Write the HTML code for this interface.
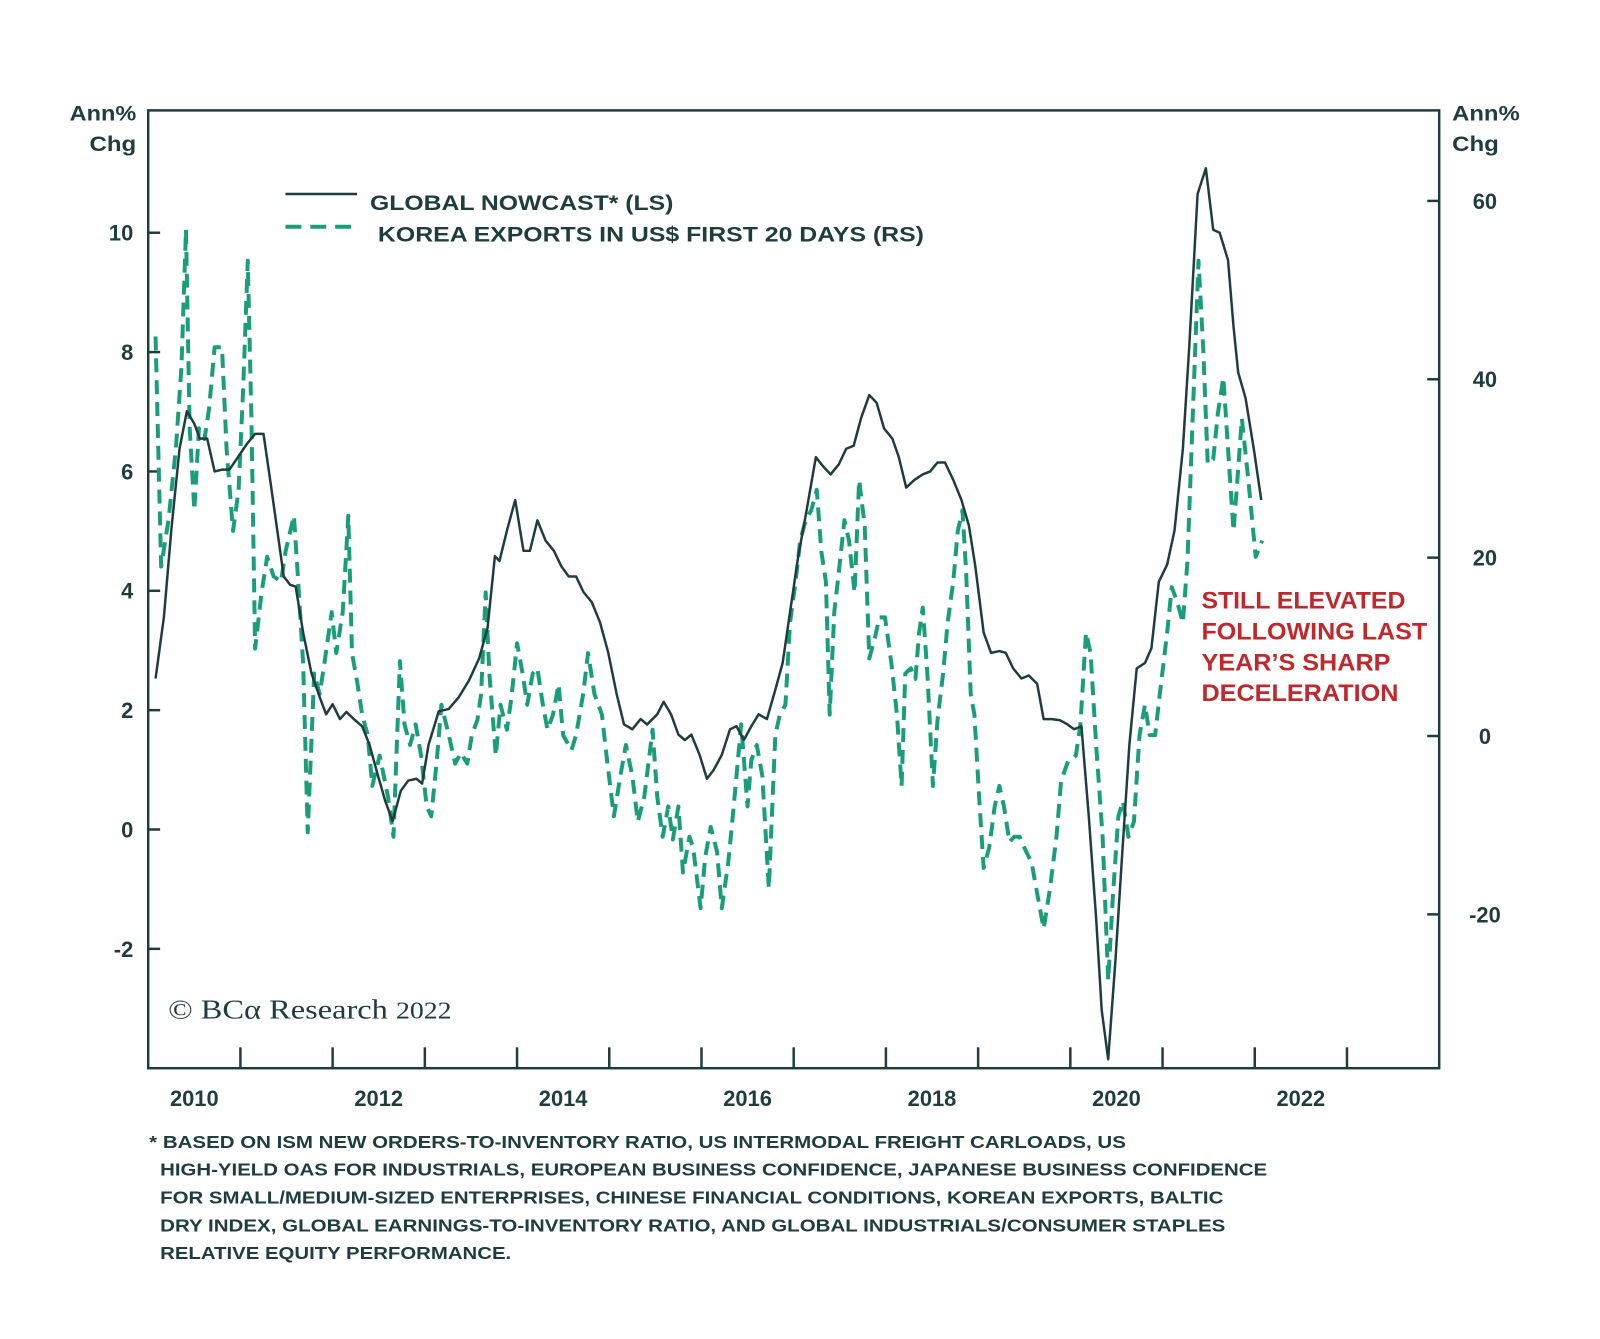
<!DOCTYPE html>
<html><head><meta charset="utf-8"><style>
body{margin:0;background:#fff;}
svg{display:block;font-family:"Liberation Sans",sans-serif;}
</style></head><body>
<svg id="chart" width="1600" height="1339" viewBox="0 0 1600 1339">
<g transform="scale(0.9946)">
<g id="axes"></g>
<g id="series"></g>
<g font-weight="bold" font-size="21" fill="#1e3d3b">
<text x="70" y="121" textLength="67" lengthAdjust="spacingAndGlyphs">Ann%</text><text x="90" y="152" textLength="47" lengthAdjust="spacingAndGlyphs">Chg</text></g>
<g font-weight="bold" font-size="21" fill="#1e3d3b">
<text x="1460" y="121" textLength="68" lengthAdjust="spacingAndGlyphs">Ann%</text><text x="1460" y="152" textLength="47" lengthAdjust="spacingAndGlyphs">Chg</text></g>
<g>
<line x1="287" y1="195" x2="359" y2="195" stroke="#1e3d3b" stroke-width="2.5"/>
<text x="372" y="211" font-weight="bold" font-size="21" fill="#1e3d3b" textLength="305" lengthAdjust="spacingAndGlyphs">GLOBAL NOWCAST* (LS)</text>
<line x1="287" y1="228" x2="361" y2="228" stroke="#1a9e7a" stroke-width="4" stroke-dasharray="16,9"/>
<text x="380" y="243" font-weight="bold" font-size="21" fill="#1e3d3b" textLength="549" lengthAdjust="spacingAndGlyphs">KOREA EXPORTS IN US$ FIRST 20 DAYS (RS)</text>
</g>
<text x="169" y="1024" font-family="'Liberation Serif',serif" font-size="28" fill="#1e3d3b" textLength="285" lengthAdjust="spacingAndGlyphs">© BCα Research <tspan font-size="24">2022</tspan></text>
<g font-weight="bold" font-size="24" fill="#c0282d">
<text x="1208" y="612" textLength="205" lengthAdjust="spacingAndGlyphs">STILL ELEVATED</text><text x="1208" y="643" textLength="227" lengthAdjust="spacingAndGlyphs">FOLLOWING LAST</text>
<text x="1208" y="674" textLength="190" lengthAdjust="spacingAndGlyphs">YEAR’S SHARP</text><text x="1208" y="705" textLength="198" lengthAdjust="spacingAndGlyphs">DECELERATION</text></g>
<g font-weight="bold" font-size="18" fill="#1e3d3b">
<text x="150" y="1154" textLength="982" lengthAdjust="spacingAndGlyphs">* BASED ON ISM NEW ORDERS-TO-INVENTORY RATIO, US INTERMODAL FREIGHT CARLOADS, US</text>
<text x="161" y="1182" textLength="1113" lengthAdjust="spacingAndGlyphs">HIGH-YIELD OAS FOR INDUSTRIALS, EUROPEAN BUSINESS CONFIDENCE, JAPANESE BUSINESS CONFIDENCE</text>
<text x="161" y="1210" textLength="1069" lengthAdjust="spacingAndGlyphs">FOR SMALL/MEDIUM-SIZED ENTERPRISES, CHINESE FINANCIAL CONDITIONS, KOREAN EXPORTS, BALTIC</text>
<text x="161" y="1238" textLength="1071" lengthAdjust="spacingAndGlyphs">DRY INDEX, GLOBAL EARNINGS-TO-INVENTORY RATIO, AND GLOBAL INDUSTRIALS/CONSUMER STAPLES</text>
<text x="161" y="1266" textLength="353" lengthAdjust="spacingAndGlyphs">RELATIVE EQUITY PERFORMANCE.</text>
</g>
</g>
</svg>
<script>
const leftTicks=[-2,0,2,4,6,8,10];
const rightTicks=[-20,0,20,40,60];
const yearLabels=[2010,2012,2014,2016,2018,2020,2022];
const nowDates=[2010.08,2010.17,2010.25,2010.34,2010.42,2010.50,2010.56,2010.64,2010.72,2010.80,2010.88,2010.96,2011.07,2011.16,2011.25,2011.33,2011.40,2011.47,2011.54,2011.60,2011.68,2011.77,2011.86,2011.93,2012.00,2012.08,2012.15,2012.23,2012.32,2012.40,2012.49,2012.57,2012.65,2012.74,2012.82,2012.91,2012.97,2013.04,2013.15,2013.26,2013.37,2013.48,2013.59,2013.68,2013.76,2013.81,2013.89,2013.98,2014.07,2014.14,2014.22,2014.31,2014.40,2014.48,2014.56,2014.64,2014.72,2014.81,2014.90,2014.99,2015.08,2015.16,2015.25,2015.34,2015.41,2015.52,2015.59,2015.67,2015.75,2015.82,2015.89,2015.98,2016.06,2016.13,2016.22,2016.31,2016.38,2016.46,2016.54,2016.62,2016.71,2016.80,2016.88,2016.96,2017.05,2017.14,2017.24,2017.30,2017.40,2017.49,2017.57,2017.65,2017.73,2017.82,2017.90,2017.98,2018.07,2018.14,2018.22,2018.31,2018.40,2018.48,2018.56,2018.64,2018.73,2018.82,2018.90,2018.97,2019.06,2019.14,2019.23,2019.30,2019.38,2019.47,2019.55,2019.64,2019.71,2019.80,2019.89,2019.97,2020.04,2020.12,2020.20,2020.28,2020.34,2020.41,2020.49,2020.56,2020.64,2020.72,2020.81,2020.88,2020.96,2021.05,2021.13,2021.22,2021.29,2021.38,2021.47,2021.55,2021.62,2021.71,2021.77,2021.82,2021.90,2021.99,2022.07];
const nowValues=[2.53,3.56,5.01,6.38,7.01,6.80,6.55,6.55,6.0,6.03,6.03,6.21,6.46,6.63,6.63,5.78,5.01,4.24,4.10,4.07,3.30,2.62,2.22,1.93,2.10,1.85,1.97,1.85,1.73,1.42,0.91,0.48,0.14,0.65,0.82,0.85,0.77,1.42,1.98,2.02,2.22,2.50,2.87,3.38,4.58,4.50,5.01,5.52,4.67,4.67,5.18,4.84,4.67,4.41,4.24,4.24,3.98,3.81,3.47,2.96,2.27,1.76,1.68,1.85,1.76,1.93,2.14,1.93,1.59,1.50,1.59,1.25,0.85,0.99,1.25,1.68,1.73,1.50,1.73,1.93,1.85,2.34,2.79,3.64,4.58,5.35,6.24,6.12,5.95,6.12,6.38,6.43,6.89,7.28,7.15,6.72,6.55,6.24,5.73,5.86,5.95,6.0,6.15,6.15,5.86,5.52,5.09,4.41,3.30,2.96,2.99,2.96,2.70,2.53,2.58,2.44,1.85,1.85,1.83,1.76,1.68,1.73,0.22,-1.49,-3.03,-3.85,-2.17,-0.46,1.42,2.70,2.79,3.04,4.15,4.44,5.01,6.38,8.09,10.65,11.08,10.05,10.0,9.54,8.43,7.66,7.23,6.38,5.52];
const koreaDates=[2010.08,2010.14,2010.22,2010.30,2010.36,2010.41,2010.45,2010.50,2010.55,2010.61,2010.66,2010.72,2010.80,2010.85,2010.92,2010.98,2011.03,2011.08,2011.12,2011.16,2011.23,2011.29,2011.36,2011.44,2011.49,2011.58,2011.62,2011.68,2011.73,2011.80,2011.86,2011.91,2011.99,2012.04,2012.11,2012.17,2012.21,2012.27,2012.32,2012.38,2012.43,2012.51,2012.60,2012.66,2012.73,2012.78,2012.84,2012.90,2012.96,2013.02,2013.07,2013.13,2013.18,2013.26,2013.33,2013.39,2013.46,2013.51,2013.57,2013.61,2013.66,2013.70,2013.77,2013.82,2013.89,2013.94,2014.00,2014.06,2014.11,2014.17,2014.22,2014.28,2014.33,2014.39,2014.45,2014.50,2014.59,2014.64,2014.72,2014.77,2014.84,2014.92,2014.97,2015.05,2015.12,2015.18,2015.25,2015.31,2015.38,2015.47,2015.52,2015.58,2015.64,2015.69,2015.75,2015.80,2015.87,2015.91,2015.99,2016.04,2016.10,2016.17,2016.22,2016.29,2016.35,2016.43,2016.50,2016.54,2016.60,2016.66,2016.73,2016.80,2016.85,2016.91,2016.96,2017.02,2017.07,2017.13,2017.19,2017.25,2017.30,2017.35,2017.39,2017.44,2017.49,2017.55,2017.60,2017.66,2017.71,2017.77,2017.82,2017.88,2017.93,2017.99,2018.06,2018.12,2018.17,2018.21,2018.27,2018.32,2018.36,2018.40,2018.45,2018.51,2018.56,2018.62,2018.67,2018.73,2018.78,2018.83,2018.87,2018.92,2018.96,2019.01,2019.06,2019.12,2019.18,2019.23,2019.28,2019.34,2019.39,2019.45,2019.50,2019.58,2019.65,2019.71,2019.78,2019.85,2019.90,2019.98,2020.06,2020.11,2020.17,2020.22,2020.28,2020.35,2020.41,2020.46,2020.52,2020.57,2020.63,2020.69,2020.75,2020.81,2020.86,2020.92,2020.97,2021.05,2021.10,2021.16,2021.22,2021.27,2021.33,2021.39,2021.44,2021.49,2021.55,2021.60,2021.66,2021.71,2021.77,2021.82,2021.86,2021.93,2022.01,2022.08];
const koreaValues=[44.8,19.0,24.2,32.2,41.3,56.8,34.5,25.3,34.5,33.3,36.7,43.6,43.6,32.2,23.0,27.6,39.0,53.3,35.6,9.8,16.1,20.1,17.9,17.3,20.7,24.7,18.4,8.1,-10.8,7.0,4.7,8.1,13.9,9.3,13.9,24.7,9.3,5.8,2.4,0.1,-5.6,-2.2,-6.8,-11.3,8.4,1.3,-1.0,1.3,-2.2,-7.9,-9.0,-2.7,3.5,0.1,-3.1,-1.9,-3.1,0.1,1.8,4.7,16.1,7.0,-2.2,3.5,0.7,4.4,10.4,7.0,3.5,7.0,7.6,3.5,0.7,2.4,5.8,0.1,-1.6,0.1,4.9,9.3,4.7,2.4,-2.2,-9.0,-4.5,-1.0,-4.5,-9.6,-6.8,0.7,-6.8,-11.3,-7.9,-11.6,-7.9,-15.3,-11.3,-12.5,-19.3,-13.6,-10.2,-13.0,-19.3,-14.2,-7.9,1.3,-7.9,-2.7,-1.0,-4.5,-17.1,0.1,2.4,3.5,12.7,17.3,21.9,24.2,25.3,27.6,20.7,17.3,2.4,13.9,18.4,24.2,21.9,16.1,28.7,23.6,8.7,11.0,13.3,13.3,8.1,2.4,-5.6,7.0,7.6,6.4,11.6,14.4,7.0,-5.6,1.8,7.0,12.7,17.3,23.0,25.3,18.4,4.7,2.4,-6.8,-14.8,-12.5,-7.9,-5.6,-7.9,-11.9,-11.3,-11.3,-12.5,-14.2,-18.2,-21.6,-17.1,-11.3,-5.0,-2.7,-2.2,1.3,11.6,9.3,-1.0,-11.3,-27.4,-18.2,-9.0,-7.3,-11.3,-9.6,0.1,3.5,0.1,0.1,4.7,11.6,16.7,15.0,12.7,19.6,36.7,53.3,43.6,30.5,31.0,36.2,40.2,32.2,23.0,29.9,35.6,28.7,20.1,21.9];

const NS='http://www.w3.org/2000/svg';
const L=149,R=1447,T=111,B=1074;
const xS=t=>L+(t-2010)*(R-L)/14;
const yL=v=>834-v*60;
const yR=v=>740-v*(740-202)/60;
function mk(tag,attrs,parent){const e=document.createElementNS(NS,tag);for(const k in attrs)e.setAttribute(k,attrs[k]);parent.appendChild(e);return e;}
const axes=document.getElementById('axes'),series=document.getElementById('series');
const frame=mk('rect',{x:L,y:T,width:R-L,height:B-T,fill:'none',stroke:'#1e3d3b','stroke-width':2.5},axes);


leftTicks.forEach(v=>{
  const y=yL(v);
  const tk=mk('line',{x1:L,x2:L+12,y1:y,y2:y,stroke:'#1e3d3b','stroke-width':2.5},axes);
  
  
  const tx=mk('text',{x:134,y:y+8,'text-anchor':'end','font-weight':'bold','font-size':22,fill:'#1e3d3b'},axes);
  tx.textContent=v;
  
  
});
rightTicks.forEach(v=>{
  const y=yR(v);
  const tk=mk('line',{x1:R-12,x2:R,y1:y,y2:y,stroke:'#1e3d3b','stroke-width':2.5},axes);
  
  
  const tx=mk('text',{x:1493,y:y+8,'text-anchor':'middle','font-weight':'bold','font-size':22,fill:'#1e3d3b'},axes);
  tx.textContent=v;
  
  
});
for(let yr=2011;yr<=2023;yr++){
  const tk=mk('line',{x1:xS(yr),x2:xS(yr),y1:B,y2:B-21,stroke:'#1e3d3b','stroke-width':2.5},axes);
  
  
}
yearLabels.forEach(yr=>{
  const tx=mk('text',{x:xS(yr+0.5),y:1112,'text-anchor':'middle','font-weight':'bold','font-size':22,fill:'#1e3d3b'},axes);
  tx.textContent=yr;
  
  
});
const kp=koreaDates.map((d,i)=>xS(d).toFixed(1)+','+yR(koreaValues[i]).toFixed(1)).join(' ');
const kl=mk('polyline',{points:kp,fill:'none',stroke:'#1a9e7a','stroke-width':4,'stroke-dasharray':'14,8','stroke-linejoin':'round'},series);


const np=nowDates.map((d,i)=>xS(d).toFixed(1)+','+yL(nowValues[i]).toFixed(1)).join(' ');
const nl=mk('polyline',{points:np,fill:'none',stroke:'#1e3d3b','stroke-width':2.5,'stroke-linejoin':'round'},series);


</script>
</body></html>
